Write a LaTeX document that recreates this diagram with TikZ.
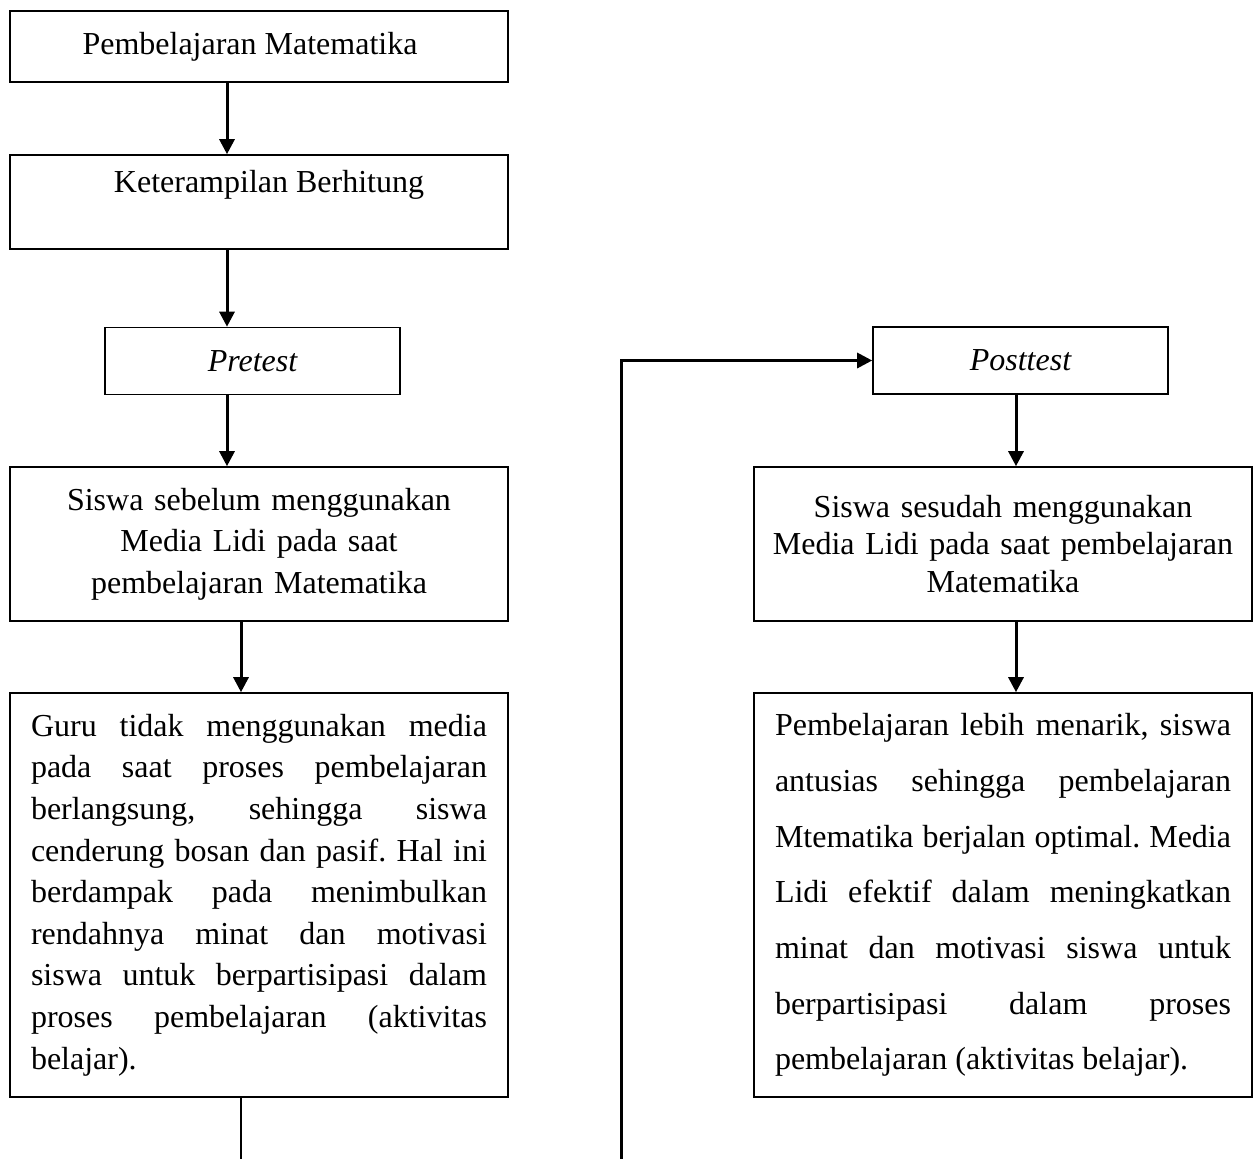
\documentclass[tikz,border=0pt]{standalone}
\usepackage{fontspec}
\setmainfont{Liberation Serif}
\usepackage{tikz}
\usetikzlibrary{arrows.meta, positioning, calc}
\frenchspacing
\tikzset{
  %% Plain box
  kotak/.style={
    rectangle, draw=black, line width=1.6pt,
    minimum width=498pt, inner sep=0pt,
    align=center, font=\fontsize{32}{41.6}\selectfont
  },
  %% Small test box
  tes/.style={
    kotak, minimum width=295pt, minimum height=67pt,
    font=\fontsize{32}{41.6}\selectfont\itshape
  },
  %% Justified paragraph box
  paragraf/.style={
    kotak, text width=456pt, align=justify,
    minimum height=404pt,
    font=\fontsize{32}{#1}\selectfont,
    execute at begin node={\tolerance=10000 \hyphenpenalty=10000 }
  },
  paragraf/.default=41.6,
  %% Arrow
  arr/.style={-{Triangle[length=15pt,width=15pt]}, draw=black, line width=3pt},
  garis/.style={draw=black, line width=1.6pt},
}

\begin{document}
\begin{tikzpicture}[x=1pt, y=-1pt]
  \useasboundingbox (0,0) rectangle (1259,1159);

  %% left column
  \node[kotak, minimum height=71pt] (mat) at (259,46.5) {Pembelajaran Matematika\hspace*{18pt}};
  \node[kotak, minimum height=94pt] (hitung) at (259,202) {\hspace*{20pt}Keterampilan Berhitung\\\mbox{}};
  \node[tes] (pre) at (252.5,361) {Pretest};
  \node[kotak, text width=456pt, minimum height=154pt] (sebelum) at (259,544)
    {Siswa sebelum menggunakan\\Media Lidi pada saat\\pembelajaran Matematika};
  \node[paragraf] (guru) at (259,895)
    {Guru tidak menggunakan media\linebreak
     pada saat proses pembelajaran\linebreak
     berlangsung, sehingga siswa\linebreak
     cenderung bosan dan pasif. Hal ini\linebreak
     berdampak pada menimbulkan\linebreak
     rendahnya minat dan motivasi\linebreak
     siswa untuk berpartisipasi dalam\linebreak
     proses pembelajaran (aktivitas\linebreak
     belajar).};

  %% right column
  \node[tes] (post) at (1020.5,360.5) {Posttest};
  \node[kotak, text width=494pt, minimum height=154pt,
        font=\fontsize{32}{37.5}\selectfont] (sesudah) at (1003,544)
    {Siswa sesudah menggunakan\\Media Lidi pada saat pembelajaran\\Matematika};
  \node[paragraf=55.7] (hasil) at (1003,895)
    {Pembelajaran lebih menarik, siswa\linebreak
     antusias sehingga pembelajaran\linebreak
     Mtematika berjalan optimal. Media\linebreak
     Lidi efektif dalam meningkatkan\linebreak
     minat dan motivasi siswa untuk\linebreak
     berpartisipasi dalam proses\linebreak
     pembelajaran (aktivitas belajar).};

  \coordinate (kiri) at (241,1159);
  \coordinate (kanan) at (621,1159);

  %% connectors
  \draw[arr] ([xshift=-32pt]mat.south) -- ([xshift=-32pt]hitung.north);
  \draw[arr] ([xshift=-32pt]hitung.south) -- ([xshift=-32pt]hitung.south |- pre.north);
  \draw[arr] ([xshift=-25.5pt]pre.south) -- ([xshift=-25.5pt]pre.south |- sebelum.north);
  \draw[arr] ([xshift=-18pt]sebelum.south) -- ([xshift=-18pt]guru.north);
  \draw[garis] ([xshift=-18pt]guru.south) -- (kiri);
  \draw[arr] (kanan) |- (post.west);
  \draw[arr] ([xshift=-4.5pt]post.south) -- ([xshift=-4.5pt]post.south |- sesudah.north);
  \draw[arr] ([xshift=13pt]sesudah.south) -- ([xshift=13pt]hasil.north);
\end{tikzpicture}
\end{document}
